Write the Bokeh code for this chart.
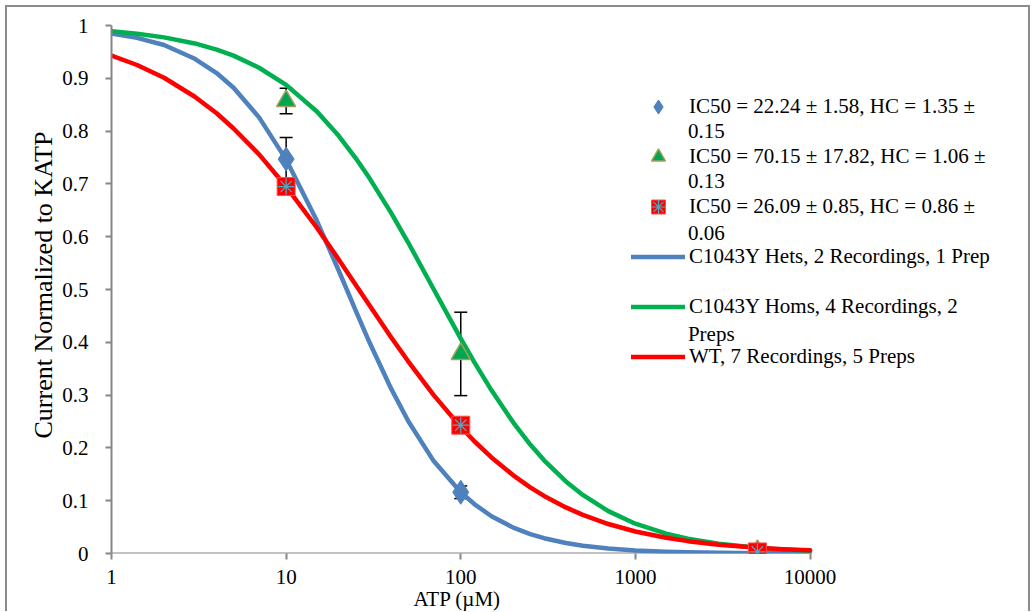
from bokeh.plotting import figure
from bokeh.models import (FixedTicker, Whisker, TeeHead, ColumnDataSource, Legend, LegendItem, Range1d,
                          Label, Title)
from bokeh.embed import file_html
from bokeh.resources import INLINE

# fitted curves
x_curve = [1, 1.4, 2, 3, 4, 5, 7, 10, 15, 20, 25, 30, 40, 50, 70, 100, 120, 150, 200, 250, 300, 400,
           500, 700, 1000, 1500, 2000, 3000, 5000, 7000, 10000]
hets_curve = [0.985, 0.9766, 0.963, 0.937, 0.910, 0.882, 0.826, 0.746, 0.630, 0.536, 0.4606, 0.400,
              0.3117, 0.251, 0.175, 0.116, 0.0932, 0.0706, 0.049, 0.0367, 0.029, 0.0198, 0.0147,
              0.0094, 0.0058, 0.0034, 0.0023, 0.0013, 0.0007, 0.0004, 0.0003]
homs_curve = [0.989, 0.9845, 0.9775, 0.966, 0.9542, 0.943, 0.920, 0.8875, 0.837, 0.791, 0.749, 0.711,
              0.6446, 0.589, 0.5005, 0.407, 0.3614, 0.309, 0.248, 0.2063, 0.1765, 0.1364, 0.111,
              0.0803, 0.0564, 0.0375, 0.0279, 0.0183, 0.0107, 0.0075, 0.0052]
wt_curve = [0.943, 0.9252, 0.901, 0.865, 0.8338, 0.805, 0.756, 0.695, 0.617, 0.557, 0.5092, 0.470,
            0.4092, 0.364, 0.300, 0.2395, 0.2121, 0.182, 0.148, 0.1253, 0.109, 0.0873, 0.0731,
            0.0558, 0.0417, 0.0298, 0.0234, 0.0166, 0.0108, 0.0081, 0.0060]

# measured points
pt_x = [10, 100, 5000]
hets_pts = [0.747, 0.116, 0.002]
hets_err = [0.041, 0.012, 0.001]
homs_pts = [0.857, 0.378, 0.005]
homs_err = [0.024, 0.079, 0.002]
wt_pts = [0.695, 0.243, 0.003]
wt_err = [0.010, 0.010, 0.001]

x_ticks = [1, 10, 100, 1000, 10000]
x_tick_labels = ["1", "10", "100", "1000", "10000"]
y_ticks = [0, 0.1, 0.2, 0.3, 0.4, 0.5, 0.6, 0.7, 0.8, 0.9, 1]
y_tick_labels = ["0", "0.1", "0.2", "0.3", "0.4", "0.5", "0.6", "0.7", "0.8", "0.9", "1"]

x_title = "ATP (\u00b5M)"
y_title = "Current Normalized to KATP"

legend_labels = [
    "IC50 = 22.24 \u00b1 1.58, HC = 1.35 \u00b1",
    "IC50 = 70.15 \u00b1 17.82, HC = 1.06 \u00b1",
    "IC50 = 26.09 \u00b1 0.85, HC = 0.86 \u00b1",
    "C1043Y Hets, 2 Recordings, 1 Prep",
    "C1043Y Homs, 4 Recordings, 2",
    "WT, 7 Recordings, 5 Preps",
]
# wrapped second lines of the legend texts
wrap_texts = ["0.15", "0.13", "0.06", "Preps"]
wrap_x = 2000
wrap_y = [0.801, 0.706, 0.607, 0.415]

FONT = "Liberation Serif"
AXIS_C = "#868686"
BLUE = "#4f81bd"
GREEN = "#00b050"
RED = "#ff0000"

p = figure(width=1025, height=606, x_axis_type="log", output_backend="svg", toolbar_location=None,
           x_range=Range1d(1, 188000), y_range=Range1d(0, 1),
           min_border_left=104, min_border_top=18, min_border_bottom=60, min_border_right=0,
           styles={"border-left": "2px solid #8c8c8c", "border-top": "2px solid #8c8c8c",
                   "border-right": "2px solid #8c8c8c", "margin-left": "5px", "margin-top": "5px"})
p.outline_line_color = None
p.xgrid.visible = False
p.ygrid.visible = False

for ax in (p.xaxis[0], p.yaxis[0]):
    ax.axis_line_color = AXIS_C
    ax.axis_line_width = 2
    ax.major_tick_line_color = AXIS_C
    ax.major_tick_line_width = 2
    ax.major_tick_in = 0
    ax.major_tick_out = 6
    ax.minor_tick_line_color = None
    ax.major_label_text_font = FONT
    ax.major_label_text_font_size = "21px"
    ax.major_label_text_color = "#000000"

p.xaxis.axis_line_color = None
p.xaxis.ticker = FixedTicker(ticks=x_ticks)
p.xaxis.major_label_overrides = {t: l for t, l in zip(x_ticks, x_tick_labels)}
p.yaxis.ticker = FixedTicker(ticks=y_ticks)
p.yaxis.major_label_overrides = {t: l for t, l in zip(y_ticks, y_tick_labels)}
p.xaxis.major_label_standoff = 10
p.yaxis.major_label_standoff = 17

# axis titles placed like the reference
p.add_layout(Title(text=x_title, align="left", offset=302, standoff=0, vertical_align="top",
                   text_font=FONT, text_font_size="21px", text_font_style="normal",
                   text_color="#000000"), "below")
p.add_layout(Title(text=y_title, align="left", offset=115, standoff=4, text_font=FONT,
                   text_font_size="26px", text_font_style="normal", text_color="#000000"), "left")

# x-axis line only across the tick span
p.segment(x0=[x_ticks[0]], y0=[y_ticks[0]], x1=[x_ticks[-1]], y1=[y_ticks[0]], line_color=AXIS_C, line_width=2)

# curves
l_hets = p.line(x_curve, hets_curve, line_color=BLUE, line_width=4.5, line_cap="round", line_join="round")
l_homs = p.line(x_curve, homs_curve, line_color=GREEN, line_width=4.5, line_cap="round", line_join="round")
l_wt = p.line(x_curve, wt_curve, line_color=RED, line_width=4.5, line_cap="round", line_join="round")

# error bars
for ys, es in ((hets_pts, hets_err), (homs_pts, homs_err), (wt_pts, wt_err)):
    src = ColumnDataSource(dict(x=pt_x, lo=[y - e for y, e in zip(ys, es)], hi=[y + e for y, e in zip(ys, es)]))
    w = Whisker(base="x", lower="lo", upper="hi", source=src, line_color="black", line_width=1.5,
                upper_head=TeeHead(size=13, line_color="black", line_width=1.5),
                lower_head=TeeHead(size=13, line_color="black", line_width=1.5))
    p.add_layout(w)

# markers
m_hets = p.scatter(pt_x, hets_pts, marker="diamond", size=24, fill_color=BLUE, line_color=BLUE)
m_homs = p.scatter(pt_x, homs_pts, marker="triangle", size=19, fill_color="#00a650", line_color="#a3a05c", line_width=1.5)
m_wt = p.scatter(pt_x, wt_pts, marker="square", size=18, fill_color=RED, line_color="#ff5050", line_width=1)
m_wt2 = p.scatter(pt_x, wt_pts, marker="asterisk", size=16, line_color="#4bacc6", line_width=1.2)

legend = Legend(items=[
    LegendItem(label=legend_labels[0], renderers=[m_hets]),
    LegendItem(label=legend_labels[1], renderers=[m_homs]),
    LegendItem(label=legend_labels[2], renderers=[m_wt, m_wt2]),
    LegendItem(label=legend_labels[3], renderers=[l_hets]),
    LegendItem(label=legend_labels[4], renderers=[l_homs]),
    LegendItem(label=legend_labels[5], renderers=[l_wt]),
], location=(520, 179))
legend.border_line_color = None
legend.background_fill_alpha = 0
legend.padding = 0
legend.spacing = 15
legend.glyph_width = 54
legend.glyph_height = 35
legend.label_height = 35
legend.label_standoff = 4
legend.label_text_font = FONT
legend.label_text_font_size = "21px"
legend.label_text_color = "#000000"
p.add_layout(legend)

for t, yv in zip(wrap_texts, wrap_y):
    p.add_layout(Label(x=wrap_x, y=yv, text=t, text_font=FONT, text_font_size="21px",
                       text_color="#000000", text_baseline="middle", text_align="left"))

open("out.html", "w").write(file_html(p, INLINE))
